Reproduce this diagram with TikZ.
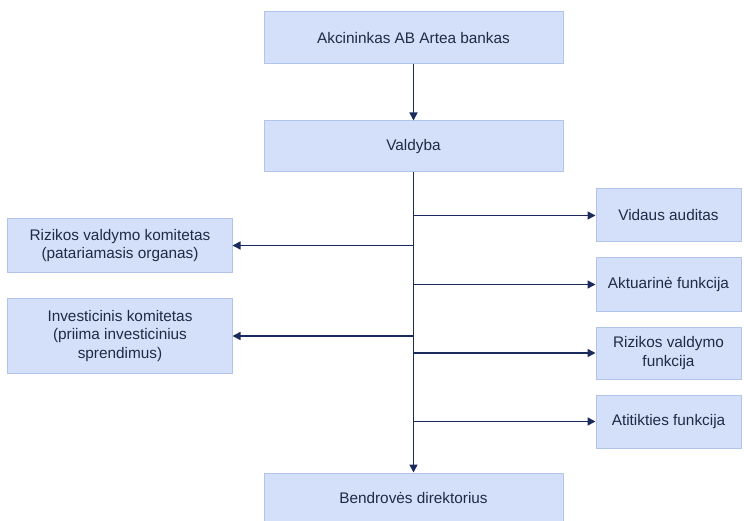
\documentclass[tikz,border=0pt]{standalone}
\usepackage{fontspec}
\setmainfont{Liberation Sans}
\usetikzlibrary{arrows.meta}
\definecolor{boxfill}{HTML}{D4DFFA}
\definecolor{boxline}{HTML}{B3C4EC}
\definecolor{linecol}{HTML}{1C2B5E}
\definecolor{txtcol}{HTML}{1F2A44}
\tikzset{
  orgbox/.style={rectangle, draw=boxline, line width=1bp, fill=boxfill, text=txtcol,
    align=center, inner sep=0pt, font=\fontsize{15.4}{18.3}\selectfont},
  conn/.style={draw=linecol, line width=1.5bp, -{Triangle[length=8bp,width=8bp]}}
}
\begin{document}
\begin{tikzpicture}[x=1bp,y=-1bp]
\useasboundingbox (0,0) rectangle (744,521);
% centre column
\node[orgbox, minimum width=299bp, minimum height=52bp] (top) at (413.5,38) {Akcininkas AB Artea bankas};
\node[orgbox, minimum width=299bp, minimum height=51bp] (valdyba) at (413.5,146.5) {Valdyba};
\node[orgbox, minimum width=299bp, minimum height=50bp] (dir) at (413.5,498) {Bendrovės direktorius};
% left column
\node[orgbox, minimum width=224bp, minimum height=53bp] (rvk) at (120,245.5) {Rizikos valdymo komitetas\\(patariamasis organas)};
\node[orgbox, minimum width=224bp, minimum height=74bp] (ik) at (120,336) {Investicinis komitetas\\(priima investicinius\\sprendimus)};
% right column
\node[orgbox, minimum width=145bp, minimum height=53bp] (va) at (668.5,215.5) {Vidaus auditas};
\node[orgbox, minimum width=145bp, minimum height=53bp] (af) at (668.5,284.5) {Aktuarinė funkcija};
\node[orgbox, minimum width=145bp, minimum height=52bp] (rvf) at (668.5,353) {Rizikos valdymo\\funkcija};
\node[orgbox, minimum width=145bp, minimum height=53bp] (atf) at (668.5,421.5) {Atitikties funkcija};
% connectors
\draw[conn] (top.south) -- (valdyba.north);
\draw[conn] (valdyba.south) -- (dir.north);
\draw[conn] (valdyba.south |- va.west) -- (va.west);
\draw[conn] (valdyba.south |- af.west) -- (af.west);
\draw[conn] (valdyba.south |- rvf.west) -- (rvf.west);
\draw[conn] (valdyba.south |- atf.west) -- (atf.west);
\draw[conn] (valdyba.south |- rvk.east) -- (rvk.east);
\draw[conn] (valdyba.south |- ik.east) -- (ik.east);
\end{tikzpicture}
\end{document}
